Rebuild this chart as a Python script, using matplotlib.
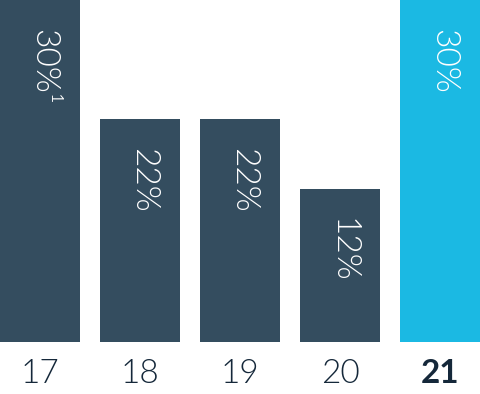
import matplotlib.pyplot as plt

# data
years = ['17', '18', '19', '20', '21']
bar_heights = [30, 19.6, 19.6, 13.4, 30]
labels = ['30%\u00b9', '22%', '22%', '12%', '30%']

dark = '#344d5f'
cyan = '#1bb9e3'
colors = [dark, dark, dark, dark, cyan]

plt.rcParams['font.family'] = ['Lato', 'DejaVu Sans']

fig = plt.figure(figsize=(4.8, 3.94), dpi=100)
ax = fig.add_axes([0, 52 / 394, 1, 342 / 394])

x = range(len(years))
ax.bar(x, bar_heights, width=0.8, color=colors)
ax.set_xlim(-0.4, 4.4)
ax.set_ylim(0, 30)

# value labels, rotated, starting 30 px below bar top
for i, (h, lab) in enumerate(zip(bar_heights, labels)):
    ax.annotate(lab, (i, h), xytext=(2, -21), textcoords='offset points',
                rotation=-90, ha='center', va='top', color='white',
                fontsize=24, fontweight=300)

ax.set_xticks(list(x))
ax.set_xticklabels(years, fontsize=24, color='#15283a', fontweight=300)
ax.get_xticklabels()[-1].set_fontweight('bold')
ax.tick_params(axis='x', length=0, pad=12)
ax.set_yticks([])
for s in ax.spines.values():
    s.set_visible(False)

fig.savefig('out.png', dpi=100)
